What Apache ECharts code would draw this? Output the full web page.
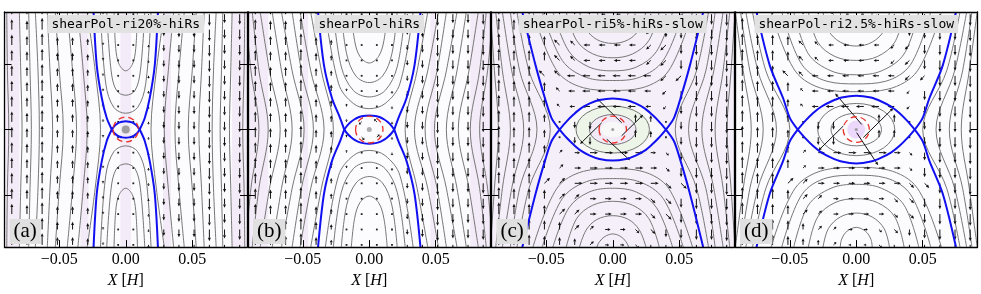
<!DOCTYPE html>
<html><head><meta charset="utf-8">
<script src="https://cdn.jsdelivr.net/npm/echarts@6/dist/echarts.min.js"></script>
<style>html,body{margin:0;padding:0;background:#fff}#c{width:981px;height:294px}</style>
</head><body><div id="c"></div>
<script>
// ---------------- data ----------------
const panelTitles = ['shearPol-ri20%-hiRs','shearPol-hiRs','shearPol-ri5%-hiRs-slow','shearPol-ri2.5%-hiRs-slow'];
const panelLabels = ['(a)','(b)','(c)','(d)'];
const xTicks = [-0.05, 0, 0.05];
const yTicks = [-0.05, 0, 0.05];
const xLimits = [-0.0912, 0.0912];
const yLimits = [-0.0901, 0.0901];

// quiver sample positions
const quiverX = [-0.0857,-0.0743,-0.0629,-0.0514,-0.04,-0.0286,-0.0171,-0.0057,0.0057,0.0171,0.0286,0.04,0.0514,0.0629,0.0743,0.0857];
const quiverY = [0.0884,0.0766,0.0648,0.053,0.0412,0.0295,0.0177,0.0059,-0.0059,-0.0177,-0.0295,-0.0412,-0.053,-0.0648,-0.0766,-0.0884];
// arrow direction (numpad: 8 up, 2 down, 4 left, 6 right, 7/9/1/3 diagonals, 5 dot, 0 none) and length (x0.001) per row
const quiverDirA = ["8888888552222222","8888888552222222","8888888552222222","8888888552222222","8888888552222222","8888888552222222","8888888552222222","8888888552222222","8888888552222222","8888888552222222","8888888552222222","8888888552222222","8888888552222222","8888888552222222","8888888552222222","8888888552222222"];
const quiverLenA = ["8796652112566978","8796652112566978","8796652112566978","8796652112566978","8796652112566978","8796652112566978","8796652112566978","8796652112566978","8796652112566978","8796652112566978","8796652112566978","8796652112566978","8796652112566978","8796652112566978","8796652112566978","8796652112566978"];
const quiverDirB = ["8888888552222222","8888888552222222","8888888552222222","8888888552222222","8888888552222222","8888888552222222","8888888552222222","8888888172222222","8888888392222222","8888888552222222","8888888552222222","8888888552222222","8888888552222222","8888888552222222","8888888552222222","8888888552222222"];
const quiverLenB = ["8779641111469778","8779641111469778","8779641111469778","8779641111469778","8779641111469778","8779652112569778","8779652112569778","8779652332569778","8779652332569778","8779652112569778","8779652112569778","8779641111469778","8779641111469778","8779641111469778","8779641111469778","8779641111469778"];
const quiverDirC = ["8888887441222222","8888877441122222","8888774444112222","8888774444112222","8887744444411222","8888744444412222","8888744444412222","8888522008852222","8888522008852222","8888966666632222","8888966666632222","8889966666633222","8888996666332222","8888996666332222","8888899663322222","8888889663222222"];
const quiverLenC = ["9887654334567889","9887654444567889","9887655555567889","9887655555567889","9886666666666889","9887456666547889","9886346666436889","9886156006516889","9886156006516889","9886346666436889","9887456666547889","9886666666666889","9887655555567889","9887655555567889","9887654444567889","9887654334567889"];
const quiverDirD = ["8888887441222222","8888877441122222","8888774444112222","8888774444112222","8887744444411222","8888744444412222","8888744444412222","8888522008852222","8888522008852222","8888966666632222","8888966666632222","8889966666633222","8888996666332222","8888996666332222","8888899663322222","8888889663222222"];
const quiverLenD = ["9887543223457889","9887543333457889","9887544444457889","9887544444457889","9886555555555889","9887355555537889","9886356666536889","9886166006616889","9886166006616889","9886356666536889","9887355555537889","9886555555555889","9887544444457889","9887544444457889","9887543333457889","9887543223457889"];
// large arrows near the O-point [x, y, u, v]
const coreArrowsC = [[0.0067,0.0052,-0.0188,0.0188],[0.0067,-0.0048,0.0162,0.0162],[-0.0083,0.0052,-0.0163,-0.0163],[-0.0045,-0.0074,0.0175,-0.0162]];
const coreArrowsD = [[0.0041,0.0039,-0.0200,0.0238],[0.0053,-0.0061,0.0226,0.0226],[-0.0097,0.0027,-0.0188,-0.0188],[0.0003,-0.0024,0.0162,-0.0250]];

// separatrix: outer arm (upper-right quadrant, from X-point up)
const armA = [[0.0105,0],[0.0143,0.0088],[0.018,0.024],[0.0218,0.049],[0.0242,0.09]];
const armB = [[0.0188,0],[0.022,0.009],[0.028,0.024],[0.034,0.049],[0.0385,0.09]];
const armC = [[0.040,0],[0.046,0.0088],[0.051,0.024],[0.058,0.049],[0.068,0.09]];
const armD = [[0.044,0],[0.050,0.009],[0.055,0.024],[0.065,0.049],[0.075,0.09]];
// separatrix: island boundary (upper-right quarter, top to X-point)
const eyeA = [[0,0.0063],[0.0026,0.0060],[0.0045,0.0055],[0.0063,0.0046],[0.0078,0.0034],[0.0092,0.0019],[0.0105,0]];
const eyeB = [[0,0.0108],[0.0047,0.0104],[0.0081,0.0094],[0.0113,0.0077],[0.0139,0.0057],[0.0164,0.0032],[0.0188,0]];
const eyeC = [[0,0.0238],[0.010,0.0226],[0.0172,0.0200],[0.024,0.0162],[0.0295,0.0115],[0.0345,0.0065],[0.040,0]];
const eyeD = [[0,0.026],[0.011,0.0245],[0.0189,0.0215],[0.0264,0.0175],[0.0326,0.0125],[0.038,0.007],[0.044,0]];
// U-shaped contours above the island (right half, vertex to top edge); mirrored below
const cupsA = [[[0,0.045],[0.005,0.050],[0.0075,0.062],[0.0088,0.09]],[[0,0.0263],[0.007,0.030],[0.011,0.045],[0.0143,0.09]],[[0,0.0125],[0.009,0.017],[0.015,0.035],[0.019,0.09]]];
const cupsB = [[[0,0.051],[0.007,0.056],[0.011,0.068],[0.0135,0.09]],[[0,0.036],[0.010,0.041],[0.017,0.058],[0.021,0.09]],[[0,0.025],[0.012,0.030],[0.021,0.048],[0.027,0.09]],[[0,0.016],[0.012,0.020],[0.023,0.035],[0.033,0.09]]];
const cupsC = [[[0,0.080],[0.006,0.082],[0.010,0.086],[0.012,0.09]],[[0,0.066],[0.012,0.069],[0.020,0.077],[0.025,0.09]],[[0,0.055],[0.015,0.058],[0.027,0.068],[0.035,0.09]],[[0,0.045],[0.018,0.048],[0.033,0.060],[0.045,0.09]],[[0,0.0376],[0.020,0.040],[0.038,0.053],[0.053,0.09]],[[0,0.030],[0.022,0.032],[0.042,0.045],[0.060,0.09]]];
const cupsD = [[[0,0.075],[0.007,0.078],[0.011,0.084],[0.012,0.09]],[[0,0.064],[0.012,0.067],[0.021,0.076],[0.025,0.09]],[[0,0.053],[0.016,0.056],[0.029,0.067],[0.036,0.09]],[[0,0.042],[0.019,0.045],[0.036,0.058],[0.047,0.09]],[[0,0.035],[0.022,0.037],[0.041,0.050],[0.056,0.09]],[[0,0.029],[0.024,0.031],[0.046,0.045],[0.064,0.09]]];
// open contours outside the separatrix: x at |y| = outerY levels (right side; mirrored left)
const outerY = [0, 0.045, 0.09];
const outerA = [[0.019,0.023,0.029],[0.029,0.032,0.036],[0.037,0.040,0.044],[0.047,0.050,0.053],[0.055,0.057,0.059],[0.065,0.066,0.068],[0.071,0.072,0.073],[0.078,0.079,0.080],[0.088,0.089,0.0895]];
const outerB = [[0.027,0.036,0.044],[0.034,0.044,0.052],[0.042,0.051,0.058],[0.049,0.058,0.066],[0.058,0.066,0.073],[0.067,0.075,0.082],[0.076,0.083,0.088],[0.083,0.089,0.093]];
const outerC = [[0.047,0.063,0.072],[0.057,0.070,0.077],[0.067,0.076,0.083],[0.077,0.083,0.088],[0.086,0.089,0.092]];
const outerD = [[0.050,0.068,0.078],[0.060,0.074,0.083],[0.070,0.080,0.087],[0.079,0.085,0.091]];
// closed contours inside the island [rx, ry]
const islandContoursC = [[0.0276,0.018],[0.0175,0.0115]];
const islandContoursD = [[0.029,0.020],[0.019,0.0125]];
// red dashed circle radius per panel
const redRadius = [0.0095, 0.0103, 0.0103, 0.0098];
// light shading bands [x0, x1]
const shadeBandsA = [[-0.0916,-0.08],[0.08,0.0916],[-0.004,0.004],[-0.034,-0.028],[0.028,0.034]];
const shadeBandsB = [[-0.0916,-0.076],[0.076,0.0916],[-0.05,-0.046],[0.046,0.05]];
const greenRingC = [[0.0285,0.0188,0.018,0.012]];

// ---------------- layout / styling ----------------
const GL = [4.5, 248, 491.5, 735], GW = 242.5, GT = 12, GH = 239.7;
const SERIF = '"Liberation Serif", "Times New Roman", serif';
const MONO = '"DejaVu Sans Mono", monospace';
const panels = [
  {arm:armA, eye:eyeA, cups:cupsA, outer:outerA, isl:[], dir:quiverDirA, len:quiverLenA, core:[], bands:shadeBandsA, bg:'#fcfbfd', dot:8, dotColor:'#8a8a8a'},
  {arm:armB, eye:eyeB, cups:cupsB, outer:outerB, isl:[], dir:quiverDirB, len:quiverLenB, core:[], bands:shadeBandsB, bg:'#fcfbfd', dot:5, dotColor:'#999'},
  {arm:armC, eye:eyeC, cups:cupsC, outer:outerC, isl:islandContoursC, dir:quiverDirC, len:quiverLenC, core:coreArrowsC, bands:[], bg:'#f5eff9', dot:3, dotColor:'#888', eyeFill:'#f9f7f9', ring:greenRingC},
  {arm:armD, eye:eyeD, cups:cupsD, outer:outerD, isl:islandContoursD, dir:quiverDirD, len:quiverLenD, core:coreArrowsD, bands:[], bg:'#fcfbfe', dot:3, dotColor:'#8a8a8a', glow:true}
];
const DIRV = {'8':[0,1],'2':[0,-1],'4':[-1,0],'6':[1,0],'7':[-0.7071,0.7071],'9':[0.7071,0.7071],'1':[-0.7071,-0.7071],'3':[0.7071,-0.7071],'5':[0,0]};

function quiverData(dirs, lens, core){
  const out = [];
  dirs.forEach((row, r) => {
    for (let c = 0; c < row.length; c++) {
      const d = row[c]; if (d === '0') continue;
      const L = (+lens[r][c]) * 0.001, dv = DIRV[d];
      out.push([quiverX[c], quiverY[r], dv[0]*L, dv[1]*L]);
    }
  });
  core.forEach(a => out.push(a));
  return out;
}
function arrowItem(params, api){
  const x = api.value(0), y = api.value(1), u = api.value(2), v = api.value(3);
  const p0 = api.coord([x, y]), p1 = api.coord([x+u, y+v]);
  const dx = p1[0]-p0[0], dy = p1[1]-p0[1], L = Math.hypot(dx, dy);
  if (L < 2) return {type:'rect', shape:{x:p0[0]-0.9, y:p0[1]-0.9, width:1.8, height:1.8}, style:{fill:'#222'}};
  const ux = dx/L, uy = dy/L, h = Math.min(3.4, L*0.5), w = 1.5;
  const bx = p1[0]-ux*h, by = p1[1]-uy*h;
  return {type:'group', children:[
    {type:'line', shape:{x1:p0[0], y1:p0[1], x2:bx, y2:by}, style:{stroke:'#111', lineWidth:1}},
    {type:'polygon', shape:{points:[[p1[0],p1[1]],[bx-uy*w, by+ux*w],[bx+uy*w, by-ux*w]]}, style:{fill:'#111'}}
  ]};
}
function ellipsePath(cx, cy, rx, ry){
  return `M${cx-rx} ${cy}A${rx} ${ry} 0 1 0 ${cx+rx} ${cy}A${rx} ${ry} 0 1 0 ${cx-rx} ${cy}Z`;
}
const neg = pts => pts.map(([x,y]) => [-x, y]);
const flip = pts => pts.map(([x,y]) => [x, -y]);

const series = [], grids = [], xAxes = [], yAxes = [], graphics = [];
const fmt = v => (v < 0 ? '\u2212' : '') + Math.abs(v).toFixed(2);

panels.forEach((pp, p) => {
  const xi = 2*p, yi = 2*p;
  grids.push({left:GL[p], top:GT, width:GW, height:GH, show:true, backgroundColor:pp.bg, borderWidth:0});
  const tick = vals => ({show:true, inside:true, length:7, customValues:vals, lineStyle:{color:'#000', width:1}});
  const line = {show:true, onZero:false, lineStyle:{color:'#000', width:1.3}};
  xAxes.push({gridIndex:p, type:'value', min:xLimits[0], max:xLimits[1], position:'bottom', z:10,
    axisLine:line, axisTick:tick(xTicks), splitLine:{show:false},
    axisLabel:{customValues:xTicks, formatter:fmt, margin:5, color:'#000', fontFamily:SERIF, fontSize:16},
    name:'{i|X} [{i|H}]', nameLocation:'middle', nameGap:22,
    nameTextStyle:{fontFamily:SERIF, fontSize:16, color:'#000', rich:{i:{fontStyle:'italic', fontFamily:SERIF, fontSize:16, color:'#000'}}}});
  xAxes.push({gridIndex:p, type:'value', min:xLimits[0], max:xLimits[1], position:'top', z:10,
    axisLine:line, axisTick:tick(xTicks), splitLine:{show:false}, axisLabel:{show:false}});
  yAxes.push({gridIndex:p, type:'value', min:yLimits[0], max:yLimits[1], position:'left', z:10,
    axisLine:line, axisTick:tick(yTicks), splitLine:{show:false}, axisLabel:{show:false}});
  yAxes.push({gridIndex:p, type:'value', min:yLimits[0], max:yLimits[1], position:'right', z:10,
    axisLine:line, axisTick:tick(yTicks), splitLine:{show:false}, axisLabel:{show:false}});

  const base = {xAxisIndex:xi, yAxisIndex:yi, silent:true, animation:false};
  // shading
  if (pp.bands.length) series.push({...base, type:'custom', z:1, clip:true, data:pp.bands,
    renderItem:(params, api) => {
      const a = api.coord([api.value(0), yLimits[1]]), b = api.coord([api.value(1), yLimits[0]]);
      return {type:'rect', shape:{x:a[0], y:a[1], width:b[0]-a[0], height:b[1]-a[1]}, style:{fill:'#f3ebf7'}};
    }});
  const eyeUpper = neg(pp.eye.slice().reverse()).concat(pp.eye.slice(1));
  const eyeLower = flip(eyeUpper);
  if (pp.eyeFill) series.push({...base, type:'custom', z:1, clip:true, data:[[0]],
    renderItem:(params, api) => ({type:'polygon', shape:{points:eyeUpper.concat(eyeLower.slice(1, -1).reverse()).map(q => api.coord(q))}, style:{fill:pp.eyeFill}})});
  if (pp.ring) series.push({...base, type:'custom', z:1, clip:true, data:pp.ring,
    renderItem:(params, api) => {
      const c = api.coord([0,0]), s1 = api.size([api.value(0), api.value(1)]), s2 = api.size([api.value(2), api.value(3)]);
      return {type:'group', children:[
        {type:'path', shape:{pathData:ellipsePath(c[0], c[1], s1[0], s1[1])}, style:{fill:'#edf5e9'}},
        {type:'path', shape:{pathData:ellipsePath(c[0], c[1], s2[0], s2[1])}, style:{fill:'#f2eaf7'}},
        {type:'path', shape:{pathData:ellipsePath(c[0], c[1], s2[0]*0.5, s2[1]*0.5)}, style:{fill:'#f8f8f8'}}
      ]};
    }});
  if (pp.glow) series.push({...base, type:'scatter', z:1, data:[[0,0]], symbolSize:18, itemStyle:{color:'rgba(215,170,245,0.55)'}});

  const gray = (pts) => series.push({...base, type:'line', z:3, data:pts, smooth:0.35, symbol:'none', clip:true, lineStyle:{color:'#777', width:1}});
  // outer open contours
  pp.outer.forEach(o => {
    const right = [[o[2],-outerY[2]],[o[1],-outerY[1]],[o[0],outerY[0]],[o[1],outerY[1]],[o[2],outerY[2]]];
    gray(right); gray(neg(right));
  });
  // cups above and below
  pp.cups.forEach(cu => {
    const full = neg(cu.slice().reverse()).concat(cu.slice(1));
    gray(full); gray(flip(full));
  });
  // island contours
  if (pp.isl.length) series.push({...base, type:'custom', z:3, clip:true, data:pp.isl,
    renderItem:(params, api) => {
      const c = api.coord([0,0]), s = api.size([api.value(0), api.value(1)]);
      return {type:'path', shape:{pathData:ellipsePath(c[0], c[1], s[0], s[1])}, style:{fill:'none', stroke:'#777', lineWidth:1}};
    }});
  // quiver
  series.push({...base, type:'custom', z:4, clip:true, data:quiverData(pp.dir, pp.len, pp.core), renderItem:arrowItem});
  // separatrix
  const blue = pts => series.push({...base, type:'line', z:5, data:pts, smooth:0.3, symbol:'none', clip:true, lineStyle:{color:'#1010f0', width:2}});
  blue(pp.arm); blue(neg(pp.arm)); blue(flip(pp.arm)); blue(neg(flip(pp.arm)));
  blue(eyeUpper); blue(eyeLower);
  // red dashed circle
  series.push({...base, type:'custom', z:6, data:[[redRadius[p]]],
    renderItem:(params, api) => {
      const c = api.coord([0,0]), s = api.size([api.value(0), api.value(0)]);
      return {type:'path', shape:{pathData:ellipsePath(c[0], c[1], s[0], s[1])}, style:{fill:'none', stroke:'#e8322a', lineWidth:1.3, lineDash:[6,4]}};
    }});
  // O-point dot
  series.push({...base, type:'scatter', z:6, data:[[0,0]], symbolSize:pp.dot, itemStyle:{color:pp.dotColor}});

  graphics.push({type:'text', x:GL[p]+GW/2, y:GT+3, z:100,
    style:{text:panelTitles[p], fontFamily:MONO, fontSize:13, fill:'#000', backgroundColor:'#e2e2e2', padding:[3,4,2,4], align:'center', verticalAlign:'top'}});
  graphics.push({type:'text', x:GL[p]+5, y:219, z:100,
    style:{text:panelLabels[p], fontFamily:SERIF, fontSize:21, fill:'#000', backgroundColor:'#e0e0e0', padding:[2,4,2,4], align:'left', verticalAlign:'top'}});
});

const chart = echarts.init(document.getElementById('c'), null, {renderer:'canvas'});
chart.setOption({animation:false, backgroundColor:'#fff', grid:grids, xAxis:xAxes, yAxis:yAxes, series:series, graphic:graphics});
</script></body></html>
